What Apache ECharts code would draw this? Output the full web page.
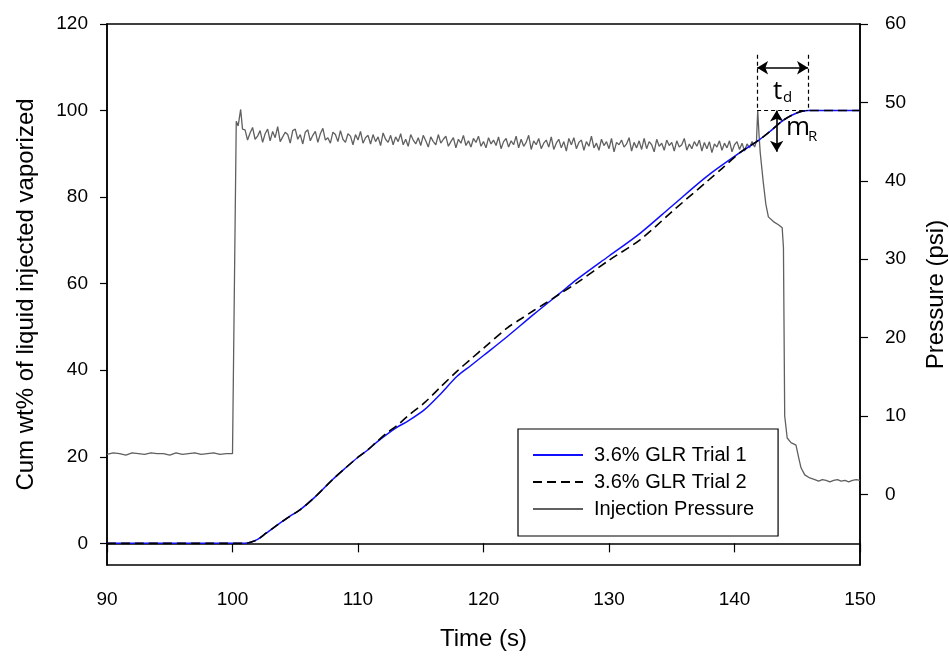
<!DOCTYPE html>
<html><head><meta charset="utf-8">
<script src="https://cdn.jsdelivr.net/npm/echarts@6/dist/echarts.min.js"></script>
<style>html,body{margin:0;padding:0;background:#fff;overflow:hidden}#c{width:949px;height:656px}</style>
</head><body><div id="c"></div>
<script>
// ---- tick labels ----
const xTicks = [90, 100, 110, 120, 130, 140, 150];
const leftTicks = [0, 20, 40, 60, 80, 100, 120];
const rightTicks = [0, 10, 20, 30, 40, 50, 60];
const legendNames = ['3.6% GLR Trial 1', '3.6% GLR Trial 2', 'Injection Pressure'];

// ---- cumulative wt% vaporized [time s, wt%] ----
const trial1 = [[90,0],[100,0],[101,0],[101.5,0.3],[102,0.9],[102.7,2.4],[103.5,4.1],[104.5,6.1],[105.4,7.8],[106.5,10.5],[108,14.8],[109,17.4],[110,19.9],[110.7,21.4],[111.5,23.4],[112.3,25.2],[113.1,26.8],[114,28.3],[115.3,30.9],[116.5,34.3],[117.9,38.6],[119,41.1],[120,43.4],[121.9,47.8],[124,52.9],[126,57.6],[127.5,61.1],[130,66.4],[132.5,71.7],[135,77.9],[137.8,84.8],[140.4,90.2],[142,93.3],[142.8,95.1],[143.9,97.8],[145,99.5],[145.9,100],[150,100]];
const trial2 = [[90,0],[100,0],[101,0],[101.5,0.3],[102,0.9],[102.7,2.4],[103.5,4.1],[104.5,6.1],[105.4,7.8],[106.5,10.5],[108,14.8],[109,17.4],[110,19.9],[110.7,21.4],[111.5,23.5],[112.3,25.5],[113.1,27.2],[114,29.5],[115.3,32.5],[116.5,35.9],[117.9,39.8],[119,42.6],[120,45.1],[121.9,49.8],[123,51.9],[124,53.8],[125,55.6],[126,57.5],[127.5,60.3],[130,65.4],[132.5,70.2],[135,76.6],[137.8,83.6],[139,86.6],[140.4,90.2],[142,93.3],[142.8,95.1],[143.9,97.8],[145,99.5],[145.9,100],[150,100]];

// ---- injection pressure (psi) ----
// before injection, sampled every 0.5 s from 90 s
const pressureBaseline = [5.1,5.3,5.2,5.0,5.3,5.2,5.1,5.3,5.2,5.2,5.0,5.3,5.1,5.2,5.3,5.1,5.2,5.3,5.1,5.2,5.2];
const pressureRise = [[100.0,5.2],[100.3,47.6],[100.45,47.0],[100.65,49.1],[100.8,46.6]];
// injection plateau, sampled every 0.2 s from 101 s
const pressurePlateau = [
46.5,45.2,46.1,46.8,45.3,45.7,46.4,44.9,46.0,46.6,
45.1,46.3,45.5,46.9,45.0,45.6,46.2,45.9,44.8,46.4,
46.6,45.3,45.9,44.7,46.2,46.5,45.1,45.8,46.3,44.9,
46.0,46.7,45.2,45.5,44.8,46.2,45.9,45.0,46.4,45.3,
44.9,46.0,45.7,44.6,45.9,45.2,46.3,44.8,45.5,45.8,
44.7,45.9,45.0,45.6,44.5,46.1,45.3,44.9,45.8,44.6,
45.6,45.0,46.0,44.6,45.3,44.4,45.9,45.2,44.7,45.5,
44.5,45.8,45.1,44.3,45.6,45.0,44.6,45.9,44.8,45.3,
45.7,44.4,45.0,45.5,44.2,45.3,44.8,45.8,44.5,45.1,
44.3,45.4,44.9,45.7,44.4,45.0,44.2,45.5,44.7,45.2,
44.5,45.6,44.1,45.0,45.4,44.3,45.1,44.6,45.7,44.2,
45.3,44.4,44.9,45.8,44.0,45.1,44.6,45.4,44.1,44.8,
45.2,44.3,45.6,44.0,44.8,45.3,44.2,45.0,43.8,45.4,
44.6,45.5,44.1,44.9,45.2,43.9,45.0,44.4,45.7,44.2,
44.8,43.9,45.3,44.5,45.0,44.1,45.4,43.7,44.9,44.6,
45.2,44.3,44.7,45.5,43.8,44.9,44.2,45.1,44.0,45.4,
44.1,45.0,44.6,43.7,45.3,44.4,44.8,43.9,45.2,44.5,
44.9,43.8,45.1,44.3,44.6,45.4,43.9,44.7,44.1,45.0,
44.4,45.2,43.8,44.9,44.1,45.0,43.6,44.7,44.3,45.1,
43.9,44.8,44.2,45.1,43.7,44.6,45.0,44.0,44.8,43.8,
44.7,44.2,45.0,44.3];
const pressureDrop = [[141.75,45.0],[141.85,49.0],[141.95,46.0],[142.05,43.6],[142.3,39.7],[142.5,37.0],[142.7,35.4],[143.1,34.8],[143.5,34.4],[143.8,34.0],[143.9,31.5],[144.0,10.0],[144.2,7.2],[144.5,6.6],[144.9,6.3],[145.1,4.8],[145.3,3.4],[145.6,2.5],[146.0,2.1]];
// after injection, sampled every 0.3 s from 146.4 s
const pressureTail = [1.9,1.7,1.9,1.8,1.6,1.8,1.9,1.7,1.8,1.6,1.8,1.9,1.8];

const r2 = v => Math.round(v * 100) / 100;
const pressure = [].concat(
  pressureBaseline.map((v, i) => [r2(90 + i * 0.5), v]),
  pressureRise,
  pressurePlateau.map((v, i) => [r2(101 + i * 0.2), v]),
  pressureDrop,
  pressureTail.map((v, i) => [r2(146.4 + i * 0.3), v])
);

// ---- annotation anchors (data space: time s, wt%) ----
const tdLeft = 141.8, tdRight = 145.86, annTop = 112.9, arrowY = 109.9;
const mrX = 143.36, mrBottom = 90.5, fullLevel = 100;

const FONT = 'Liberation Sans, Arial, sans-serif';
const chart = echarts.init(document.getElementById('c'));
const axisCommon = {
  axisLine: {show: true, lineStyle: {color: '#000', width: 1.5}},
  splitLine: {show: false},
  nameTextStyle: {fontFamily: FONT, fontSize: 24, color: '#000'},
  nameLocation: 'middle'
};
chart.setOption({
  animation: false,
  backgroundColor: '#fff',
  grid: {left: 107, right: 89, top: 24, bottom: 91, containLabel: false, outerBoundsMode: 'none',
         show: true, borderColor: '#000', borderWidth: 1.5},
  xAxis: Object.assign({}, axisCommon, {
    type: 'value', min: 90, max: 150, interval: 10, name: 'Time (s)', nameGap: 62,
    axisTick: {show: true, length: 9, lineStyle: {color: '#000', width: 1.2}, customValues: xTicks},
    axisLabel: {fontFamily: FONT, fontSize: 19, color: '#000', margin: 25, customValues: xTicks}
  }),
  yAxis: [
    Object.assign({}, axisCommon, {
      type: 'value', min: -5, max: 120, position: 'left',
      name: 'Cum wt% of liquid injected vaporized', nameGap: 69,
      axisTick: {show: true, length: 7, lineStyle: {color: '#000', width: 1.2}, customValues: leftTicks},
      axisLabel: {fontFamily: FONT, fontSize: 19, color: '#000', margin: 19, customValues: leftTicks}
    }),
    Object.assign({}, axisCommon, {
      type: 'value', min: -9, max: 60, position: 'right',
      name: 'Pressure (psi)', nameGap: 64,
      axisTick: {show: true, length: 8, lineStyle: {color: '#000', width: 1.2}, customValues: rightTicks},
      axisLabel: {fontFamily: FONT, fontSize: 19, color: '#000', margin: 25, customValues: rightTicks}
    })
  ],
  legend: {
    data: legendNames, orient: 'vertical', left: 518, top: 429,
    backgroundColor: '#fff', borderColor: '#000', borderWidth: 1.2, borderRadius: 0,
    padding: [16, 24, 17, 14], itemGap: 7, itemWidth: 50, itemHeight: 14,
    selectedMode: false,
    itemStyle: {opacity: 0},
    textStyle: {fontFamily: FONT, fontSize: 20, color: '#000', padding: [0, 0, 0, 6]}
  },
  series: [
    {name: legendNames[2], type: 'line', yAxisIndex: 1, data: pressure, symbol: 'none', z: 1,
     lineStyle: {color: '#606060', width: 1.3}, itemStyle: {color: '#606060'}},
    {name: legendNames[0], type: 'line', yAxisIndex: 0, data: trial1, symbol: 'none', smooth: 0.3, z: 2,
     lineStyle: {color: '#1010ff', width: 1.5}, itemStyle: {color: '#1010ff'},
     markLine: {silent: true, animation: false, symbol: 'none', label: {show: false},
       lineStyle: {color: '#000', type: [4, 3], width: 1.2},
       data: [
         [{coord: [tdLeft, annTop]}, {coord: [tdLeft, fullLevel]}],
         [{coord: [tdRight, annTop]}, {coord: [tdRight, fullLevel]}],
         [{coord: [tdLeft, fullLevel]}, {coord: [tdRight, fullLevel]}]
       ]}},
    {name: legendNames[1], type: 'line', yAxisIndex: 0, data: trial2, symbol: 'none', smooth: 0.3, z: 3,
     lineStyle: {color: '#000', width: 1.6, type: [9, 5]}, itemStyle: {color: '#000'},
     markLine: {silent: true, animation: false, symbol: ['arrow', 'arrow'], symbolSize: [10, 11], label: {show: false},
       lineStyle: {color: '#000', type: 'solid', width: 1.6},
       data: [
         [{coord: [tdLeft, arrowY]}, {coord: [tdRight, arrowY]}],
         [{coord: [mrX, fullLevel]}, {coord: [mrX, mrBottom]}]
       ]}}
  ]
});

// annotation text, placed through the chart's own scales
const px = (t, v) => chart.convertToPixel({xAxisIndex: 0, yAxisIndex: 0}, [t, v]);
const TF = 'Open Sans, Liberation Sans, sans-serif';
const pT = px(143.07, 104.4), pD = px(143.87, 102.9), pM = px(144.1, 96.0), pR = px(145.86, 94.0);
chart.setOption({graphic: [
  {type: 'text', x: pT[0], y: pT[1], style: {text: 't', font: '26px ' + TF, fill: '#000', textAlign: 'left', textVerticalAlign: 'middle'}, z: 100},
  {type: 'text', x: pD[0], y: pD[1], style: {text: 'd', font: '15px ' + TF, fill: '#000', textAlign: 'left', textVerticalAlign: 'middle'}, z: 100},
  {type: 'text', x: pM[0], y: pM[1], style: {text: 'm', font: '26px ' + TF, fill: '#000', textAlign: 'left', textVerticalAlign: 'middle'}, z: 100},
  {type: 'text', x: pR[0], y: pR[1], style: {text: 'R', font: '15px ' + TF, fill: '#000', textAlign: 'left', textVerticalAlign: 'middle'}, z: 100}
]});
</script></body></html>
